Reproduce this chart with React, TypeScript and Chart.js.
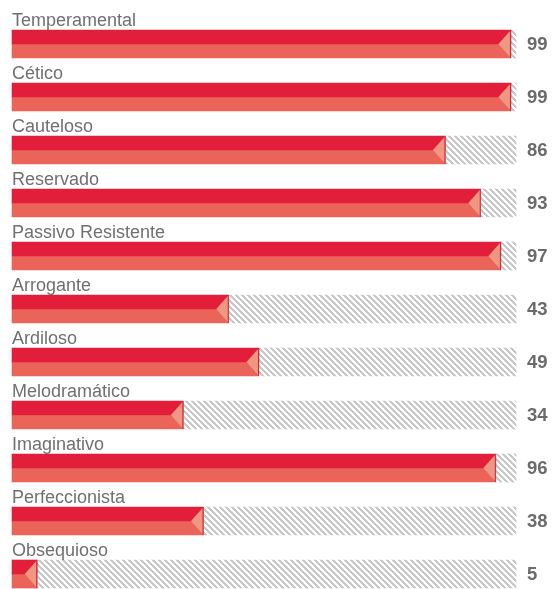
import React, { useEffect, useRef } from "react";
import { Chart, registerables } from "chart.js";

Chart.register(...registerables);

const categories = [
  "Temperamental",
  "Cético",
  "Cauteloso",
  "Reservado",
  "Passivo Resistente",
  "Arrogante",
  "Ardiloso",
  "Melodramático",
  "Imaginativo",
  "Perfeccionista",
  "Obsequioso",
];
const scores = [99, 99, 86, 93, 97, 43, 49, 34, 96, 38, 5];
const maxScore = 100;
const remainder = scores.map((v) => maxScore - v);

const DARK = "#E31E3A";
const SALMON = "#EA645A";
const TRI = "#EF9783";
const LABEL = "#707070";
const VALUE = "#6b6b6b";

function makeHatch(): CanvasPattern | string {
  const s = 6;
  const c = document.createElement("canvas");
  c.width = s;
  c.height = s;
  const ctx = c.getContext("2d");
  if (!ctx) return "#ddd";
  const img = ctx.createImageData(s, s);
  for (let y = 0; y < s; y++) {
    for (let x = 0; x < s; x++) {
      const k = (((x - y) % s) + s) % s;
      const i = (y * s + x) * 4;
      const g = k < 3 ? 200 : 255;
      img.data[i] = g;
      img.data[i + 1] = g;
      img.data[i + 2] = g;
      img.data[i + 3] = 255;
    }
  }
  ctx.putImageData(img, 0, 0);
  const main = document.createElement("canvas").getContext("2d");
  const p = main ? main.createPattern(c, "repeat") : null;
  return p || "#ddd";
}

const decorPlugin = {
  id: "decor",
  afterDatasetsDraw(chart: any) {
    const ctx = chart.ctx as CanvasRenderingContext2D;
    const top = chart.getDatasetMeta(0).data;
    const bot = chart.getDatasetMeta(2).data;
    ctx.save();
    for (let i = 0; i < categories.length; i++) {
      const a = top[i];
      const b = bot[i];
      if (!a || !b) continue;
      const y0 = a.y - a.height / 2;
      const y1 = b.y + b.height / 2;
      const ym = (y0 + y1) / 2;
      const xe = a.x;
      const xs = a.base;
      const w = Math.min(12.5, xe - xs);
      // triangle
      ctx.fillStyle = TRI;
      ctx.beginPath();
      ctx.moveTo(xe, y0);
      ctx.lineTo(xe - w, ym);
      ctx.lineTo(xe, y1);
      ctx.closePath();
      ctx.fill();
      // end line
      ctx.fillStyle = "#C8283A";
      ctx.fillRect(xe - 1, y0, 1, y1 - y0);
      // category label
      ctx.fillStyle = LABEL;
      ctx.font = "18px 'Liberation Sans', Arial, sans-serif";
      ctx.textAlign = "left";
      ctx.textBaseline = "alphabetic";
      ctx.fillText(categories[i], xs, y0 - 4);
      // value label
      ctx.fillStyle = VALUE;
      ctx.font = "bold 18.5px 'Liberation Sans', Arial, sans-serif";
      ctx.textBaseline = "middle";
      ctx.fillText(String(scores[i]), 527, ym + 1);
    }
    ctx.restore();
  },
};

export default function App() {
  const ref = useRef<HTMLCanvasElement>(null);
  useEffect(() => {
    if (!ref.current) return;
    const hatch = makeHatch();
    const chart = new Chart(ref.current, {
      type: "bar",
      data: {
        labels: categories,
        datasets: [
          { data: scores, backgroundColor: DARK, stack: "a", barThickness: 14, clip: false as any },
          { data: remainder, backgroundColor: hatch as any, stack: "a", barThickness: 14, clip: false as any },
          { data: scores, backgroundColor: SALMON, stack: "b", barThickness: 14, clip: false as any },
          { data: remainder, backgroundColor: hatch as any, stack: "b", barThickness: 14, clip: false as any },
        ],
      },
      options: {
        indexAxis: "y",
        responsive: false,
        animation: false,
        events: [],
        layout: { padding: { left: 12, right: 39, top: 44, bottom: 15 } },
        scales: {
          x: { stacked: true, min: 0, max: maxScore, display: false },
          y: { display: false, offset: false },
        },
        plugins: {
          legend: { display: false },
          tooltip: { enabled: false },
        },
      },
      plugins: [decorPlugin],
    });
    return () => chart.destroy();
  }, []);
  return (
    <div style={{ position: "fixed", left: 0, top: 0, width: 555, height: 589, background: "#fff" }}>
      <canvas ref={ref} width={555} height={589} style={{ display: "block" }} />
    </div>
  );
}
